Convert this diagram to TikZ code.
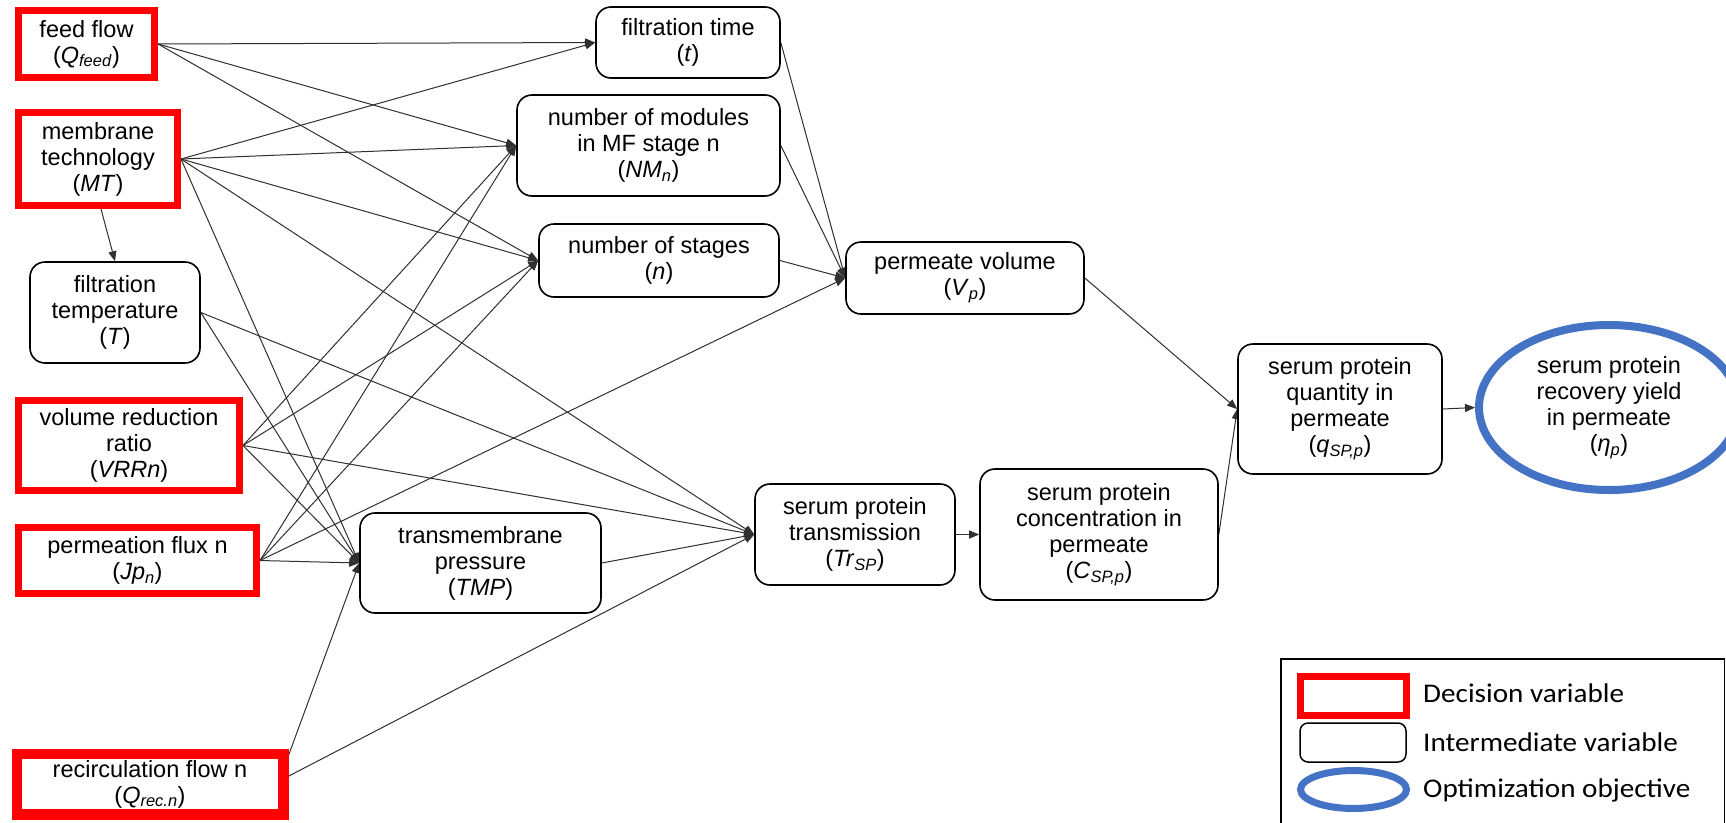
\documentclass[tikz,border=0pt]{standalone}
\usepackage{fontspec}
\setmainfont{Liberation Sans}
\newfontfamily\legfont[FakeStretch=1.08]{Carlito}
\usetikzlibrary{arrows.meta,backgrounds,shapes.geometric}
\definecolor{objblue}{HTML}{4472C4}
\definecolor{edgegray}{HTML}{303030}
\tikzset{
  lbl/.style={font=\fontsize{23.5}{26}\selectfont, align=center, inner sep=0pt},
  dec/.style={lbl, rectangle, draw=red, line width=7pt, fill=white},
  inter/.style={lbl, rectangle, draw=black, line width=1.6pt, rounded corners=15pt, fill=white},
  obj/.style={lbl, ellipse, draw=objblue, line width=8pt, fill=white},
  link/.style={draw=edgegray, line width=1pt, -{Triangle[length=10pt,width=8pt]}},
  legtext/.style={font=\legfont\fontsize{27}{30}\selectfont, anchor=west, inner sep=0pt},
}
\newcommand{\sbi}[1]{\textsubscript{\textit{#1}}}
\begin{document}
\begin{tikzpicture}[x=1pt,y=-1pt]
\useasboundingbox (0,0) rectangle (1726,822);
\clip (0,0) rectangle (1726,822);

% decision variables
\node[dec, minimum width=136pt, minimum height=67pt] (feed) at (86.5,44) {feed flow\\(\textit{Q}\sbi{feed})};
\node[dec, minimum width=159pt, minimum height=93pt] (mt) at (98,159) {membrane\\technology\\(\textit{MT})};
\node[dec, minimum width=221pt, minimum height=90pt] (vrr) at (129,445.5) {volume reduction\\ratio\\(\textit{VRRn})};
\node[dec, minimum width=238pt, minimum height=66pt] (jp) at (137.5,560.5) {permeation flux n\\(\textit{Jp}\sbi{n})};
\node[dec, minimum width=263pt, minimum height=57pt] (qrec) at (150,784) {recirculation flow n\\(\textit{Q}\sbi{rec.n})};
\draw[red, line width=7pt] (qrec.north west) rectangle (qrec.south east);

% intermediate variables
\node[inter, minimum width=170pt, minimum height=101pt] (temp) at (115,312.5) {filtration\\temperature\\(\textit{T})};
\node[inter, minimum width=241pt, minimum height=100pt] (tmp) at (480.5,563) {transmembrane\\pressure\\(\textit{TMP})};
\node[inter, minimum width=184pt, minimum height=71pt] (time) at (688,42.5) {filtration time\\(\textit{t})};
\node[inter, minimum width=263pt, minimum height=101pt] (nm) at (648.5,145.5) {number of modules\\in MF stage n\\(\textit{NM}\sbi{n})};
\node[inter, minimum width=240pt, minimum height=73pt] (nst) at (659,260.5) {number of stages\\(\textit{n})};
\node[inter, minimum width=238pt, minimum height=72pt] (vp) at (965,278) {permeate volume\\(\textit{V}\sbi{p})};
\node[inter, minimum width=200pt, minimum height=101pt] (tr) at (855,534.5) {serum protein\\transmission\\(\textit{Tr}\sbi{SP})};
\node[inter, minimum width=238pt, minimum height=131pt] (csp) at (1099,534.5) {serum protein\\concentration in\\permeate\\(\textit{C}\sbi{SP,p})};
\node[inter, minimum width=204pt, minimum height=130pt] (qsp) at (1340,409) {serum protein\\quantity in\\permeate\\(\textit{q}\sbi{SP,p})};

% objective
\node[obj, minimum width=260pt, minimum height=165pt] (eta) at (1609,407.5) {serum protein\\recovery yield\\in permeate\\(\textit{η}\sbi{p})};

% connectors
\begin{scope}[on background layer]
\fill[white] (0,0) rectangle (1726,822);
\draw[link] (feed.east) -- (time.west);
\draw[link] (feed.east) -- (nm.west);
\draw[link] (feed.east) -- (nst.west);
\draw[link] (mt.east) -- (time.west);
\draw[link] (mt.east) -- (nm.west);
\draw[link] (mt.east) -- (nst.west);
\draw[link] (mt.east) -- (tr.west);
\draw[link] (mt.east) -- (tmp.west);
\draw[link] ([xshift=3pt]mt.south) -- (temp.north);
\draw[link] (temp.east) -- (tmp.west);
\draw[link] (temp.east) -- (tr.west);
\draw[link] (vrr.east) -- (nm.west);
\draw[link] (vrr.east) -- (nst.west);
\draw[link] (vrr.east) -- (tr.west);
\draw[link] (vrr.east) -- (tmp.west);
\draw[link] (jp.east) -- (nm.west);
\draw[link] (jp.east) -- (nst.west);
\draw[link] (jp.east) -- (vp.west);
\draw[link] (jp.east) -- (tmp.west);
\draw[link] ([yshift=19pt]qrec.east) -- (tmp.west);
\draw[link] ([yshift=6pt]qrec.east) -- (tr.west);
\draw[link] (time.east) -- (vp.west);
\draw[link] (nm.east) -- (vp.west);
\draw[link] (nst.east) -- (vp.west);
\draw[link] (tmp.east) -- (tr.west);
\draw[link] (tr.east) -- (csp.west);
\draw[link] (csp.east) -- (qsp.west);
\draw[link] (vp.east) -- (qsp.west);
\draw[link] (qsp.east) -- (eta.west);
\end{scope}

% legend
\draw[black, line width=1.5pt] (1281,659) rectangle (1724.5,840);
\node[dec, minimum width=106pt, minimum height=39pt] (legdec) at (1353.5,696) {};
\node[inter, rounded corners=8pt, line width=1.5pt, minimum width=106pt, minimum height=39pt] (legint) at (1353,742.5) {};
\node[obj, line width=7pt, minimum width=106pt, minimum height=38pt] (legobj) at (1353.5,789.5) {};
\node[legtext] (legt1) at (1423,693) {Decision variable};
\node[legtext] (legt2) at (1423,742) {Intermediate variable};
\node[legtext] (legt3) at (1423,790) {Optimization objective};
\end{tikzpicture}
\end{document}
